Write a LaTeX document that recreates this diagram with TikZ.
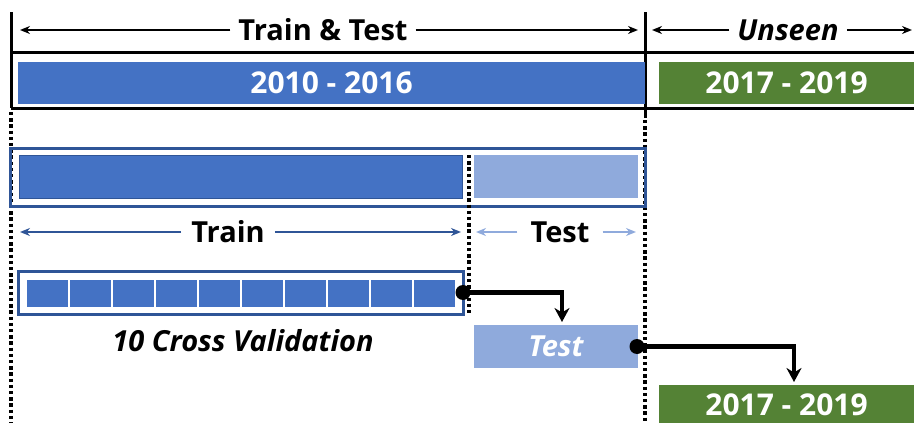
\documentclass[tikz,border=0pt]{standalone}
\usepackage{fontspec}
\setmainfont{Open Sans}
\usetikzlibrary{arrows.meta,calc}
\definecolor{mblue}{HTML}{4472C4}
\definecolor{dblue}{HTML}{2F5597}
\definecolor{lblue}{HTML}{8FAADC}
\definecolor{mgreen}{HTML}{548235}
\tikzset{
  bar/.style={inner sep=0pt, outer sep=0pt, anchor=north west},
  lbl/.style={font=\fontsize{30}{34}\selectfont\bfseries, text=white, inner sep=0pt},
  hdr/.style={font=\fontsize{29}{33}\selectfont\bfseries, inner sep=0pt},
  dimarrow/.style={line width=2pt, -{Stealth[length=10pt,width=8pt]}},
  frame/.style={line width=3pt, black},
  dotline/.style={line width=3.6pt, dash pattern=on 3.4pt off 2.8pt},
  conn/.style={line width=4.4pt, -{Stealth[length=14pt,width=15pt]}},
  dotend/.style={fill=black, circle, inner sep=0pt, minimum size=15pt},
  cell/.style={fill=mblue, draw=white, line width=1.5pt, minimum width=43pt, minimum height=29pt, inner sep=0pt, anchor=north west}
}
\begin{document}
\begin{tikzpicture}[x=1pt,y=-1pt]
\useasboundingbox (0,0) rectangle (914,423);
% frame
\draw[frame] (11,12) -- (11,108);
\draw[frame] (645,12) -- (645,118);
\draw[frame] (11,52) -- (914,52);
\draw[frame] (11,108) -- (914,108);
\draw[dotline] (11,112) -- (11,423);
\draw[dotline] (645,120) -- (645,423);
% top headers
\node[hdr] (tt) at (323,30) {Train \& Test};
\draw[dimarrow] (tt.west) ++(-8,0) -- (20,30);
\draw[dimarrow] (tt.east) ++(8,0) -- (638,30);
\node[hdr, font=\fontsize{29}{33}\selectfont\bfseries\itshape] (un) at (788,30) {Unseen};
\draw[dimarrow] (un.west) ++(-8,0) -- (652,30);
\draw[dimarrow] (un.east) ++(8,0) -- (912,30);
% year bars
\node[bar, fill=mblue, minimum width=627pt, minimum height=42pt] (b1) at (18,62) {};
\node[lbl] at (b1.center) {2010 - 2016};
\node[bar, fill=mgreen, minimum width=255pt, minimum height=42pt] (g1) at (659,62) {};
\node[lbl] at (g1.center) {2017 - 2019};
% second row
\node[bar, draw=dblue, line width=3pt, minimum width=635pt, minimum height=58pt] (box2) at (10,148) {};
\node[bar, fill=mblue, draw=dblue, line width=0.8pt, minimum width=443pt, minimum height=43pt] (trbar) at (19,155) {};
\node[bar, fill=lblue, minimum width=164pt, minimum height=43pt] (tebar) at (474,155) {};
\draw[dotline] (469,155) -- (469,313);
% train/test arrows
\node[hdr] (trl) at (228,232) {Train};
\draw[dimarrow, dblue] (trl.west) ++(-10,0) -- (20,232);
\draw[dimarrow, dblue] (trl.east) ++(10,0) -- (461,232);
\node[hdr] (tel) at (560,232) {Test};
\draw[dimarrow, lblue] (tel.west) ++(-13,0) -- (476,232);
\draw[dimarrow, lblue] (tel.east) ++(13,0) -- (636,232);
% CV box
\node[bar, draw=dblue, line width=3pt, minimum width=445pt, minimum height=43pt] (cv) at (18,271) {};
\foreach \i in {0,...,9} {
  \node[cell] (c\i) at ({25+43*\i},278) {};
}
\node[font=\fontsize{29}{33}\selectfont\bfseries\itshape, inner sep=0pt] (cvl) at (243,341) {10 Cross Validation};
% test box
\node[bar, fill=lblue, minimum width=164pt, minimum height=43pt] (tb) at (474,325) {};
\node[lbl, font=\fontsize{29}{33}\selectfont\bfseries\itshape] at (tb.center) {Test};
% green bottom
\node[bar, fill=mgreen, minimum width=255pt, minimum height=42pt] (g2) at (659,385) {};
\node[lbl] at ($(g2.center)+(0,-1)$) {2017 - 2019};
% connectors
\coordinate (a1) at (562,322);
\coordinate (a2) at (794,382);
\node[dotend] (d1) at (cv.east) {};
\node[dotend] (d2) at ($(tb.east)+(-1,0)$) {};
\draw[conn] (d1.center) -| (a1);
\draw[conn] (d2.center) -| (a2);
\end{tikzpicture}
\end{document}
